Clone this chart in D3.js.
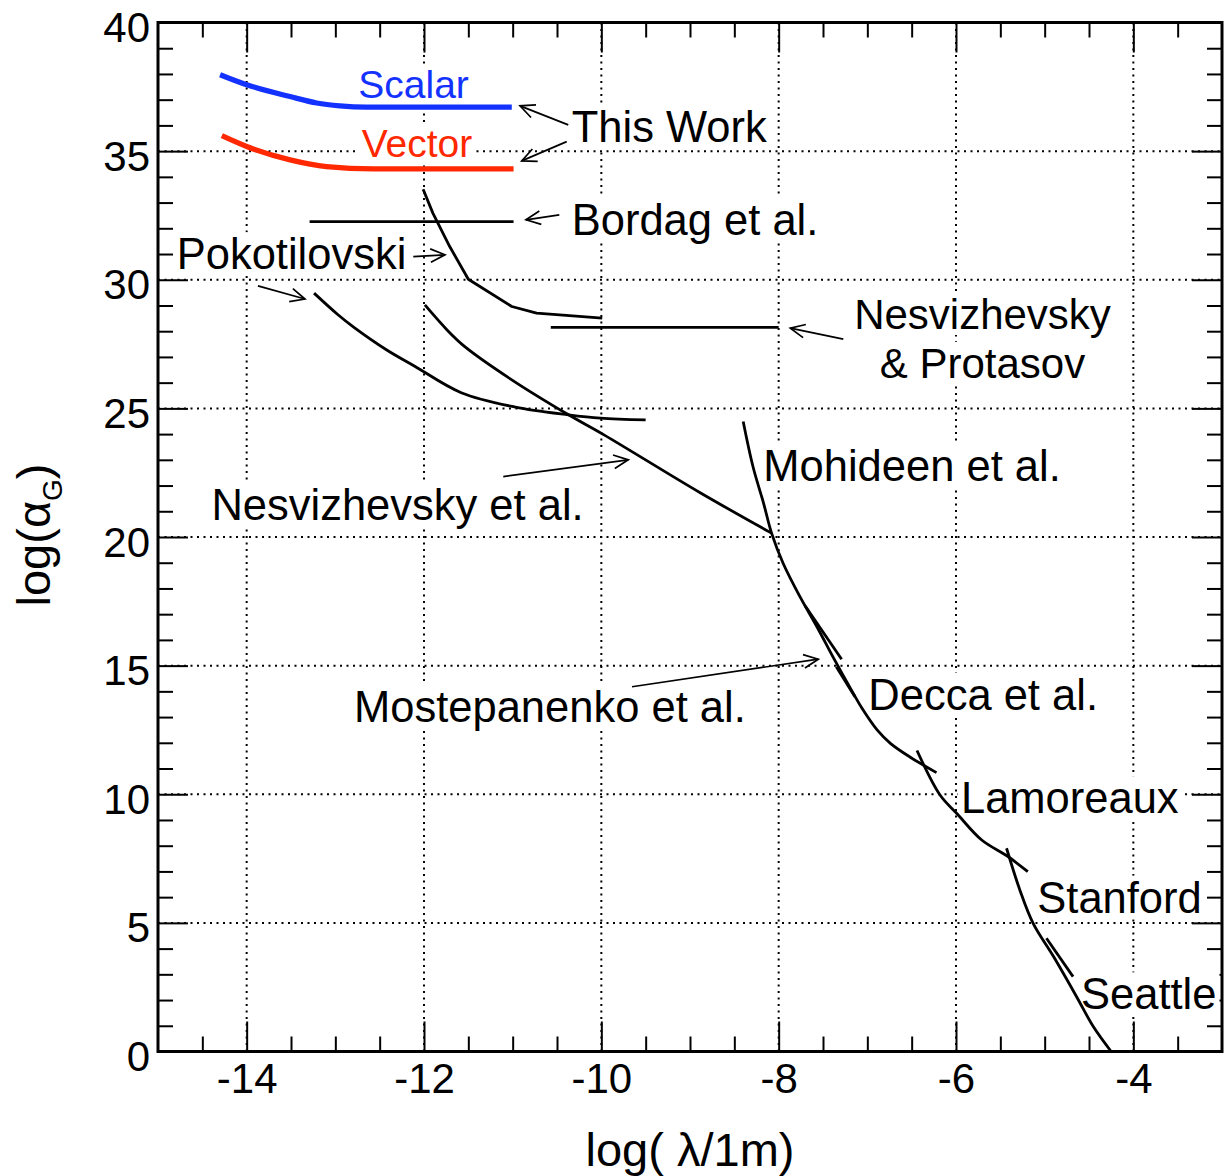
<!DOCTYPE html>
<html><head><meta charset="utf-8">
<script src="https://cdn.jsdelivr.net/npm/d3@7"></script>
<style>
body{margin:0;background:#fff}
svg{display:block}
text{font-family:"Liberation Sans",Arial,Helvetica,sans-serif;fill:#000}
</style>
</head><body>
<svg id="c" width="1224" height="1176"></svg>
<script>
// ---------------- data ----------------
const xMajor = [-14, -12, -10, -8, -6, -4];
const xTickLabels = ["-14", "-12", "-10", "-8", "-6", "-4"];
const yMajor = [0, 5, 10, 15, 20, 25, 30, 35, 40];
const yTickLabels = ["0", "5", "10", "15", "20", "25", "30", "35", "40"];

// This work
const scalar = [[-14.30,37.97],[-14.00,37.58],[-13.51,37.12],[-13.21,36.87],[-12.95,36.76],[-12.65,36.71],[-11.01,36.71]];
const vector = [[-14.28,35.60],[-14.00,35.18],[-13.51,34.66],[-13.10,34.40],[-12.57,34.31],[-10.99,34.31]];

// Other experiments
const bordag = [[-13.29,32.26],[-10.99,32.26]];
const nesvProtasov = [[-10.57,28.15],[-8.00,28.15]];
const pokotilovskiA = [[-12.01,33.52],[-11.90,32.59],[-11.71,31.29],[-11.50,30.02],[-11.01,28.96],[-10.73,28.70],[-9.99,28.51]];
const pokotilovskiB = [[-13.24,29.48],[-12.97,28.64],[-12.79,28.15],[-12.42,27.27],[-12.10,26.63],[-11.58,25.61],[-10.97,25.05],[-10.37,24.75],[-10.01,24.62],[-9.50,24.55]];
const nesvizhevsky = [[-11.99,29.02],[-11.74,28.05],[-11.54,27.40],[-11.01,26.11],[-10.37,24.75],[-9.97,23.97],[-8.89,21.73],[-8.08,20.15]];
const mohideen = [[-8.40,24.49],[-8.29,22.74],[-8.17,21.31],[-8.08,20.15],[-7.95,18.98],[-7.76,17.68],[-7.57,16.52],[-7.38,15.29]];
const decca = [[-7.38,15.29],[-7.16,13.93],[-7.06,13.34],[-6.89,12.50],[-6.74,11.98],[-6.52,11.45],[-6.22,10.84]];
const deccaCross1 = [[-7.70,17.32],[-7.29,15.25]];
const deccaCross2 = [[-7.35,14.96],[-7.14,13.79]];
const lamoreaux = [[-6.44,11.70],[-6.18,9.97],[-5.99,9.25],[-5.71,8.22],[-5.41,7.57],[-5.19,6.99]];
const stanford = [[-5.43,7.90],[-5.28,6.28],[-5.13,4.98],[-4.90,3.69],[-4.64,2.13],[-4.45,0.96],[-4.25,0.0]];
const seattle = [[-4.98,4.40],[-4.68,2.91]];

// annotations (data coordinates)
const labelTexts = ["Scalar","Vector","This Work","Bordag et al.","Pokotilovski","Nesvizhevsky et al.","Mohideen et al.","Mostepanenko et al.","Decca et al.","Lamoreaux","Stanford","Seattle"];
const labelX = [-12.741,-12.703,-10.334,-10.334,-14.789,-14.398,-8.173,-12.789,-6.989,-5.944,-5.083,-4.590];
const labelY = [37.06,34.79,35.37,31.75,30.41,20.66,22.19,12.81,13.28,9.26,5.40,1.64];
const twoLineText = ["Nesvizhevsky", "& Protasov"];
const twoLineX = -5.701;
const twoLineY = [28.10, 26.20];
const arrowFrom = [[-10.373,36.02],[-10.391,35.37],[-10.474,32.52],[-12.121,30.90],[-13.873,29.76],[-7.271,27.69],[-11.106,22.35],[-9.654,14.18]];
const arrowTo   = [[-10.917,36.76],[-10.898,34.62],[-10.850,32.33],[-11.763,30.97],[-13.342,29.25],[-7.869,28.12],[-9.696,23.00],[-7.553,15.25]];

// ---------------- drawing ----------------
const svg = d3.select("#c");
const X = d3.scaleLinear().domain([-15, -3]).range([158, 1222]);
const Y = d3.scaleLinear().domain([0, 40]).range([1051.5, 22.5]);
const BLUE = "#1432ff", RED = "#ff2800";
const FS = 43.5;

const gGrid = svg.append("g");
const gAxes = svg.append("g");
const gBoxes = svg.append("g");
const gCurves = svg.append("g");
const gArrows = svg.append("g");
const gText = svg.append("g");

// grid
gGrid.selectAll("line.gv").data(xMajor).join("line").attr("class","gv")
  .attr("x1", d => X(d)).attr("x2", d => X(d)).attr("y1", Y(40)).attr("y2", Y(0));
gGrid.selectAll("line.gh").data(yMajor.filter(v => v > 0 && v < 40)).join("line")
  .attr("class","gh")
  .attr("x1", X(-15)).attr("x2", X(-3)).attr("y1", d => Y(d)).attr("y2", d => Y(d));
gGrid.selectAll("line").attr("stroke", "#000").attr("stroke-width", 2).attr("stroke-dasharray", "2 4.5");

// axes
const xMinor = d3.range(-14.5, -3, 0.5).filter(v => !xMajor.includes(v));
const yMinor = d3.range(1, 40, 1).filter(v => v % 5 !== 0);
function tidy(g) {
  g.select(".domain").remove();
  g.selectAll(".tick line").attr("stroke", "#000").attr("stroke-width", 2);
}
gAxes.append("g").attr("transform", `translate(0,${Y(0)})`)
  .call(d3.axisBottom(X).tickValues(xMajor).tickSize(-30).tickFormat((d, i) => xTickLabels[i]))
  .call(tidy)
  .call(g => g.selectAll("text").attr("y", 41.5).attr("dy", 0).attr("font-size", 42)
      .attr("font-family", null).attr("fill", "#000"));
gAxes.append("g").attr("transform", `translate(0,${Y(0)})`)
  .call(d3.axisBottom(X).tickValues(xMinor).tickSize(-15).tickFormat("")).call(tidy);
gAxes.append("g").attr("transform", `translate(0,${Y(40)})`)
  .call(d3.axisTop(X).tickValues(xMajor).tickSize(-30).tickFormat("")).call(tidy);
gAxes.append("g").attr("transform", `translate(0,${Y(40)})`)
  .call(d3.axisTop(X).tickValues(xMinor).tickSize(-15).tickFormat("")).call(tidy);
gAxes.append("g").attr("transform", `translate(${X(-15)},0)`)
  .call(d3.axisLeft(Y).tickValues(yMajor).tickSize(-30).tickFormat((d, i) => yTickLabels[i]))
  .call(tidy)
  .call(g => g.selectAll("text").attr("x", -8).attr("dy", 0).attr("y", 19).attr("font-size", 42)
      .attr("font-family", null).attr("fill", "#000"));
gAxes.append("g").attr("transform", `translate(${X(-15)},0)`)
  .call(d3.axisLeft(Y).tickValues(yMinor).tickSize(-15).tickFormat("")).call(tidy);
gAxes.append("g").attr("transform", `translate(${X(-3)},0)`)
  .call(d3.axisRight(Y).tickValues(yMajor).tickSize(-30).tickFormat("")).call(tidy);
gAxes.append("g").attr("transform", `translate(${X(-3)},0)`)
  .call(d3.axisRight(Y).tickValues(yMinor).tickSize(-15).tickFormat("")).call(tidy);
gAxes.append("rect").attr("x", X(-15)).attr("y", Y(40))
  .attr("width", X(-3) - X(-15)).attr("height", Y(0) - Y(40))
  .attr("fill", "none").attr("stroke", "#000").attr("stroke-width", 3);

// axis titles
svg.append("text").attr("x", (X(-15) + X(-3)) / 2).attr("y", 1166).attr("text-anchor", "middle")
  .attr("font-size", 47).text("log( λ/1m)");
const yt = svg.append("text").attr("transform", `translate(50,${(Y(0) + Y(40)) / 2 - 2}) rotate(-90)`)
  .attr("text-anchor", "middle").attr("font-size", 47);
yt.append("tspan").text("log(α");
yt.append("tspan").attr("font-size", 28).attr("dy", 12).text("G");
yt.append("tspan").attr("dy", -12).text(")");

// curves
const line = d3.line().x(d => X(d[0])).y(d => Y(d[1]));
const smooth = d3.line().x(d => X(d[0])).y(d => Y(d[1])).curve(d3.curveMonotoneX);
const spline = d3.line().x(d => X(d[0])).y(d => Y(d[1])).curve(d3.curveCatmullRom.alpha(0.5));
gCurves.append("path").attr("d", smooth(scalar)).attr("stroke", BLUE).attr("stroke-width", 5.2).attr("fill", "none");
gCurves.append("path").attr("d", smooth(vector)).attr("stroke", RED).attr("stroke-width", 5.2).attr("fill", "none");
const straightSeries = [bordag, nesvProtasov, pokotilovskiA, deccaCross1, deccaCross2, seattle];
const curvedSeries = [pokotilovskiB, nesvizhevsky, mohideen.concat(decca.slice(1)), lamoreaux, stanford];
gCurves.selectAll("path.blk").data(straightSeries).join("path").attr("class", "blk")
  .attr("d", d => line(d));
gCurves.selectAll("path.crv").data(curvedSeries).join("path").attr("class", "crv")
  .attr("d", d => spline(d));
gCurves.selectAll("path.blk,path.crv").attr("stroke", "#000").attr("stroke-width", 2.8)
  .attr("fill", "none").attr("stroke-linejoin", "round");

// arrows
const arrows = arrowFrom.map((f, i) => ({ f, t: arrowTo[i] }));
arrows.forEach(a => {
  const x1 = X(a.f[0]), y1 = Y(a.f[1]), x2 = X(a.t[0]), y2 = Y(a.t[1]);
  const ang = Math.atan2(y1 - y2, x1 - x2), L = 16, h = 25 * Math.PI / 180;
  gArrows.append("line").attr("x1", x1).attr("y1", y1).attr("x2", x2).attr("y2", y2);
  gArrows.append("path").attr("d",
    `M${x2 + L * Math.cos(ang + h)},${y2 + L * Math.sin(ang + h)}L${x2},${y2}L${x2 + L * Math.cos(ang - h)},${y2 + L * Math.sin(ang - h)}`);
});
gArrows.selectAll("line,path").attr("stroke", "#000").attr("stroke-width", 1.7).attr("fill", "none");

// labels with white boxes
const colorOf = { "Scalar": BLUE, "Vector": RED };
function box(bb, base, fs) {
  gBoxes.append("rect").attr("x", bb.x - 3).attr("width", bb.width + 6)
    .attr("y", base - 0.85 * fs).attr("height", fs).attr("fill", "#fff");
}
labelTexts.forEach((t, i) => {
  const fs = colorOf[t] ? 39 : FS;
  const tx = gText.append("text").attr("x", X(labelX[i])).attr("y", Y(labelY[i]))
    .attr("font-size", fs).style("fill", colorOf[t] || "#000").text(t);
  box(tx.node().getBBox(), Y(labelY[i]), fs);
});
// two-line centred label
const FS2 = 42;
twoLineText.forEach((t, i) => {
  const tx = gText.append("text").attr("font-size", FS2).attr("text-anchor", "middle")
    .attr("x", X(twoLineX)).attr("y", Y(twoLineY[i])).text(t);
  box(tx.node().getBBox(), Y(twoLineY[i]), FS2);
});
</script>
</body></html>
